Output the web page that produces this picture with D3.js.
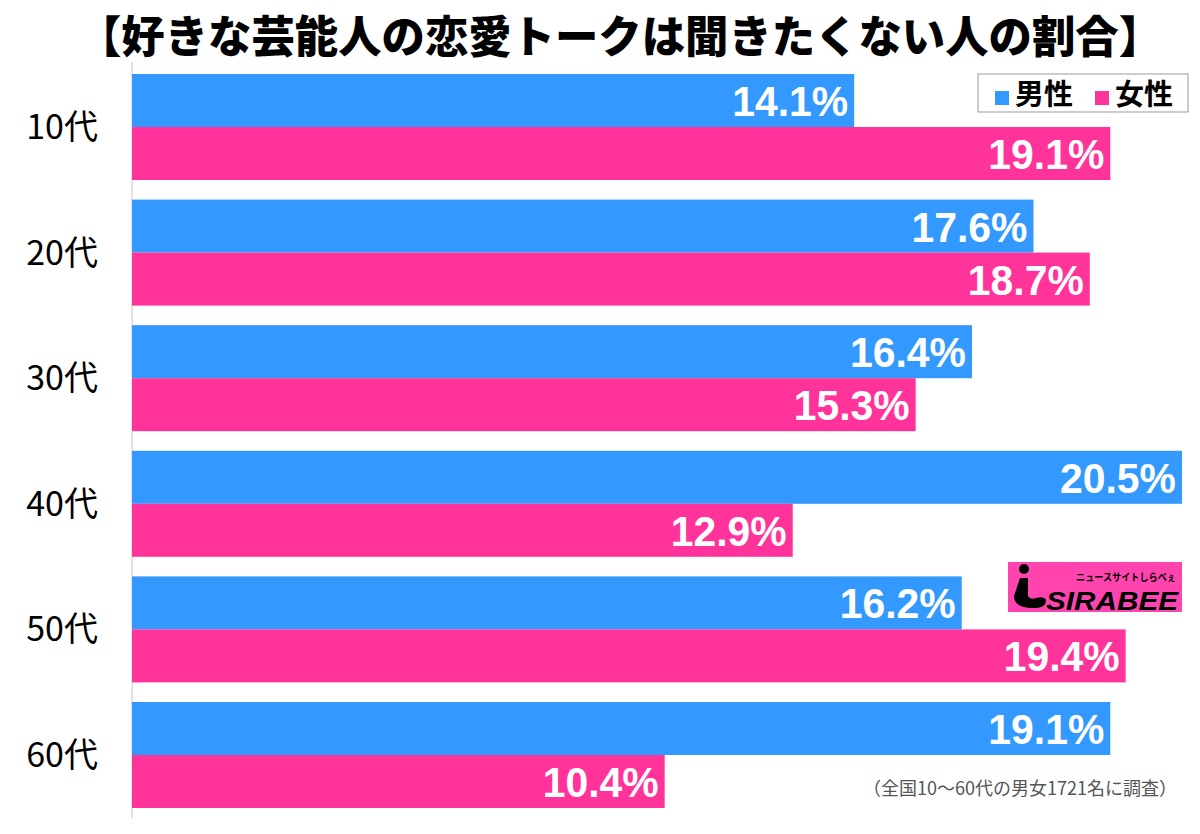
<!DOCTYPE html>
<html><head><meta charset="utf-8">
<script src="https://cdn.jsdelivr.net/npm/d3@7"></script>
<style>body{margin:0;background:#fff}svg{display:block}</style>
</head><body>
<script>
const title = "【好きな芸能人の恋愛トークは聞きたくない人の割合】";
const categories = ["10代","20代","30代","40代","50代","60代"];
const seriesNames = ["男性","女性"];
const male = [14.1,17.6,16.4,20.5,16.2,19.1];
const female = [19.1,18.7,15.3,12.9,19.4,10.4];
const footnote = "（全国10〜60代の男女1721名に調査）";
const colors = ["#3399ff","#ff3399"];

const W=1200,H=834;
const svg=d3.select("body").append("svg").attr("width",W).attr("height",H);
const jp="'Noto Sans CJK JP','Noto Sans',sans-serif";

svg.append("text").attr("x",620).attr("y",53).attr("text-anchor","middle")
  .attr("font-family",jp).attr("font-weight",900).attr("font-size",44)
  .attr("textLength",1084).attr("lengthAdjust","spacingAndGlyphs")
  .attr("fill","#000").text(title);

const x=d3.scaleLinear().domain([0,20.5]).range([132,1182]);
const y=d3.scaleBand().domain(categories).range([64.2,817.8]).paddingInner(0.156).paddingOuter(0.078);
const sub=d3.scaleBand().domain(seriesNames).range([0,y.bandwidth()]);

svg.append("line").attr("x1",132).attr("x2",132).attr("y1",62).attr("y2",818)
  .attr("stroke","#d9d9d9").attr("stroke-width",1.5);

const rows=categories.map((c,i)=>({c,vals:[male[i],female[i]]}));
const g=svg.selectAll("g.row").data(rows).join("g").attr("class","row")
  .attr("transform",d=>`translate(0,${y(d.c)})`);
g.each(function(d){
  const gg=d3.select(this);
  d.vals.forEach((v,j)=>{
    const yy=sub(seriesNames[j]);
    gg.append("rect").attr("x",x(0)).attr("y",yy).attr("width",x(v)-x(0)).attr("height",sub.bandwidth())
      .attr("fill",colors[j]);
    gg.append("text").attr("x",x(v)-6).attr("y",yy+sub.bandwidth()/2+15.5).attr("text-anchor","end")
      .attr("font-family","'Liberation Sans',Arial,sans-serif").attr("font-weight","bold").attr("font-size",43)
      .attr("textLength",116).attr("lengthAdjust","spacingAndGlyphs")
      .attr("fill","#fff").text(v.toFixed(1)+"%");
  });
});

svg.selectAll("text.cat").data(categories).join("text").attr("class","cat")
  .attr("x",98).attr("y",d=>y(d)+y.bandwidth()/2+12).attr("text-anchor","end")
  .attr("font-family",jp).attr("font-weight",400).attr("font-size",34).attr("fill","#000").text(d=>d);

// legend
const lg=svg.append("g");
lg.append("rect").attr("x",978).attr("y",74).attr("width",210).attr("height",38).attr("fill","#fff").attr("stroke","#999");
const lx=[995,1095];
seriesNames.forEach((s,j)=>{
  lg.append("rect").attr("x",lx[j]).attr("y",91).attr("width",14).attr("height",14).attr("fill",colors[j]);
  lg.append("text").attr("x",lx[j]+20).attr("y",105).attr("font-family",jp).attr("font-weight","bold")
    .attr("font-size",29).attr("fill","#000").text(s);
});

// logo
const lo=svg.append("g");
lo.append("rect").attr("x",1008).attr("y",562).attr("width",174).attr("height",50).attr("fill","#ff44b0");
lo.append("circle").attr("cx",1024).attr("cy",569).attr("r",5).attr("fill","#000");
lo.append("path").attr("d","M1020,578 L1028,578 L1028,596 Q1030,600 1036,598 Q1044,596 1046,600 Q1046,608 1034,608 Q1014,608 1014,596 Z").attr("fill","#000");
lo.append("text").attr("x",1076).attr("y",581).attr("font-family",jp).attr("font-weight","bold").attr("font-size",10)
  .attr("textLength",100).attr("lengthAdjust","spacingAndGlyphs").attr("fill","#000").text("ニュースサイトしらべぇ");
lo.append("text").attr("x",1046).attr("y",610).attr("font-family","'Liberation Sans',Arial,sans-serif").attr("font-weight","bold").attr("font-style","italic")
  .attr("font-size",26).attr("textLength",132).attr("lengthAdjust","spacingAndGlyphs").attr("fill","#000").text("SIRABEE");

svg.append("text").attr("x",1177).attr("y",795).attr("text-anchor","end").attr("font-family",jp)
  .attr("font-size",18).attr("fill","#555").text(footnote);
</script>
</body></html>
